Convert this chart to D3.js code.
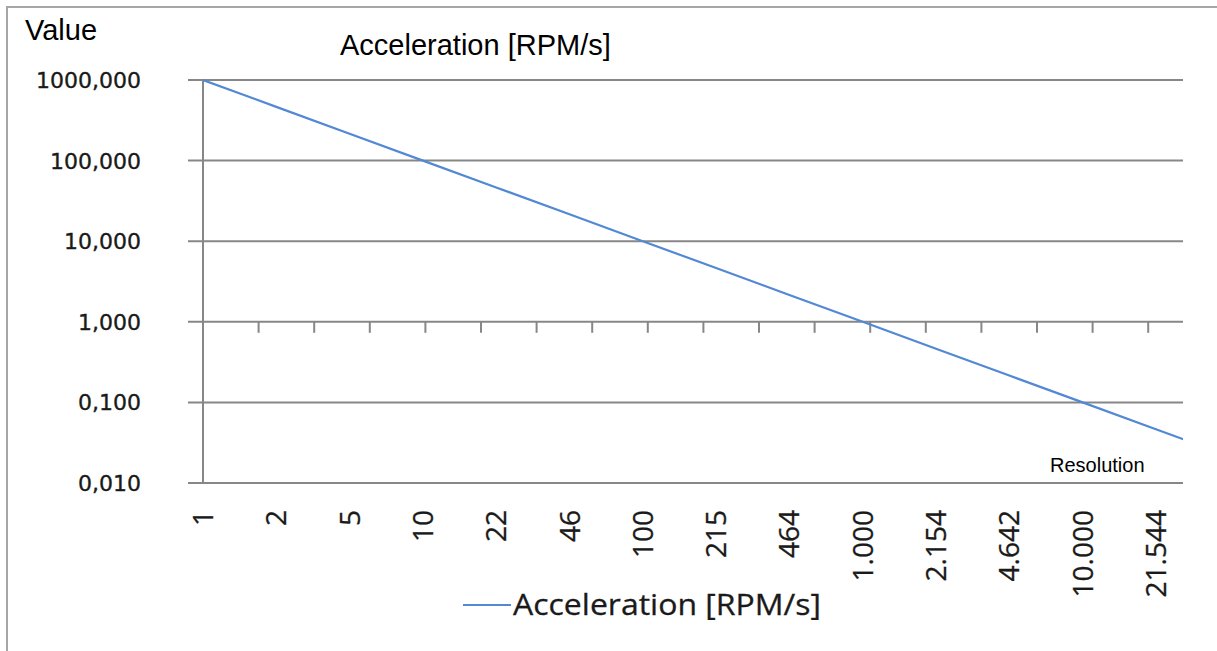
<!DOCTYPE html>
<html>
<head>
<meta charset="utf-8">
<script src="https://cdn.jsdelivr.net/npm/d3@7/dist/d3.min.js"></script>
<style>
  html, body { margin: 0; padding: 0; background: #fff; }
  svg { display: block; }
</style>
</head>
<body>
<svg id="chart" width="1217" height="651"></svg>
<script>
// ---- data ----
const categories = ["1", "2", "5", "10", "22", "46", "100", "215", "464", "1.000", "2.154", "4.642", "10.000", "21.544", "46.416"];
const accelerationValues = [1000, 464.2, 215.4, 100, 46.42, 21.54, 10, 4.642, 2.154, 1, 0.4642, 0.2154, 0.1, 0.04642, 0.02154];
const yTickValues = [1000, 100, 10, 1, 0.1, 0.01];
const yTickLabels = ["1000,000", "100,000", "10,000", "1,000", "0,100", "0,010"];
const seriesName = "Acceleration [RPM/s]";
const chartTitle = "Acceleration [RPM/s]";
const yAxisTitle = "Value";
const xAxisTitle = "Resolution";
const axisMinorTicks = 17;

// ---- layout ----
const W = 1217, H = 651;
const plot = { left: 203, right: 1183, top: 80, bottom: 483 };
const catStep = 73.3;
const gridColor = "#878787";
const lineColor = "#5288d4";
const textColor = "#1a1a1a";

const svg = d3.select("#chart");

svg.append("rect").attr("x", 7).attr("y", 7).attr("width", W + 50).attr("height", H + 50)
  .attr("fill", "#fff").attr("stroke", "#a6a6a6").attr("stroke-width", 2);

const x = d3.scaleLinear().domain([0, 1]).range([plot.left, plot.left + catStep]);
const y = d3.scaleLog().domain([0.01, 1000]).range([plot.bottom, plot.top]);

// gridlines with outward tick
svg.append("g").selectAll("line").data(yTickValues).join("line")
  .attr("x1", plot.left - 15).attr("x2", plot.right)
  .attr("y1", d => y(d)).attr("y2", d => y(d))
  .attr("stroke", gridColor).attr("stroke-width", 2);

// y axis line
svg.append("line").attr("x1", plot.left).attr("x2", plot.left)
  .attr("y1", y(1000)).attr("y2", y(0.01))
  .attr("stroke", gridColor).attr("stroke-width", 2);

// y tick labels
svg.append("g").selectAll("text").data(yTickValues).join("text")
  .attr("x", plot.left - 62).attr("y", d => y(d))
  .attr("dy", "0.36em").attr("text-anchor", "end")
  .attr("font-family", "DejaVu Sans").attr("font-size", 22)
  .attr("fill", textColor).attr("stroke", textColor).attr("stroke-width", 0.35)
  .text((d, i) => yTickLabels[i]);

// category axis crossing at 1
const tickScale = d3.scaleLinear().domain([0, (plot.right - plot.left) / 55.6]).range([plot.left, plot.right]);
svg.append("g").selectAll("line").data(d3.range(1, axisMinorTicks + 1)).join("line")
  .attr("x1", d => tickScale(d)).attr("x2", d => tickScale(d))
  .attr("y1", y(1)).attr("y2", y(1) + 11)
  .attr("stroke", gridColor).attr("stroke-width", 2);

// category labels (rotated), only those within the plot
const visibleCats = categories.map((c, i) => ({ c, i })).filter(d => x(d.i) <= plot.right);
svg.append("g").selectAll("text").data(visibleCats).join("text")
  .attr("transform", d => `translate(${x(d.i) + 10},${plot.bottom + 27}) rotate(-90)`)
  .attr("text-anchor", "end")
  .attr("font-family", "Open Sans").attr("font-size", 28)
  .attr("fill", textColor).attr("stroke", textColor).attr("stroke-width", 0.3)
  .text(d => d.c);

// series line
svg.append("clipPath").attr("id", "clip").append("rect")
  .attr("x", plot.left).attr("y", plot.top - 5).attr("width", plot.right - plot.left).attr("height", plot.bottom - plot.top + 10);
const line = d3.line().x((d, i) => x(i)).y(d => y(d));
svg.append("path").datum(accelerationValues)
  .attr("clip-path", "url(#clip)")
  .attr("d", line).attr("fill", "none").attr("stroke", lineColor).attr("stroke-width", 2.2);

// titles
svg.append("text").attr("x", 25).attr("y", 40)
  .attr("font-family", "Liberation Sans").attr("font-size", 29).attr("fill", "#000")
  .text(yAxisTitle);
svg.append("text").attr("x", 340).attr("y", 55)
  .attr("font-family", "Liberation Sans").attr("font-size", 29).attr("fill", "#000")
  .text(chartTitle);
svg.append("text").attr("x", 1050).attr("y", 472)
  .attr("font-family", "Liberation Sans").attr("font-size", 20).attr("fill", "#000")
  .text(xAxisTitle);

// legend
const lg = svg.append("g").attr("transform", "translate(463,605)");
lg.append("line").attr("x1", 0).attr("x2", 48).attr("y1", 0).attr("y2", 0)
  .attr("stroke", lineColor).attr("stroke-width", 2);
lg.append("text").attr("x", 50).attr("y", 0).attr("dy", "0.36em")
  .attr("font-family", "Open Sans").attr("font-size", 29)
  .attr("fill", textColor).attr("stroke", textColor).attr("stroke-width", 0.3)
  .attr("textLength", 308).attr("lengthAdjust", "spacingAndGlyphs")
  .text(seriesName);
</script>
</body>
</html>
